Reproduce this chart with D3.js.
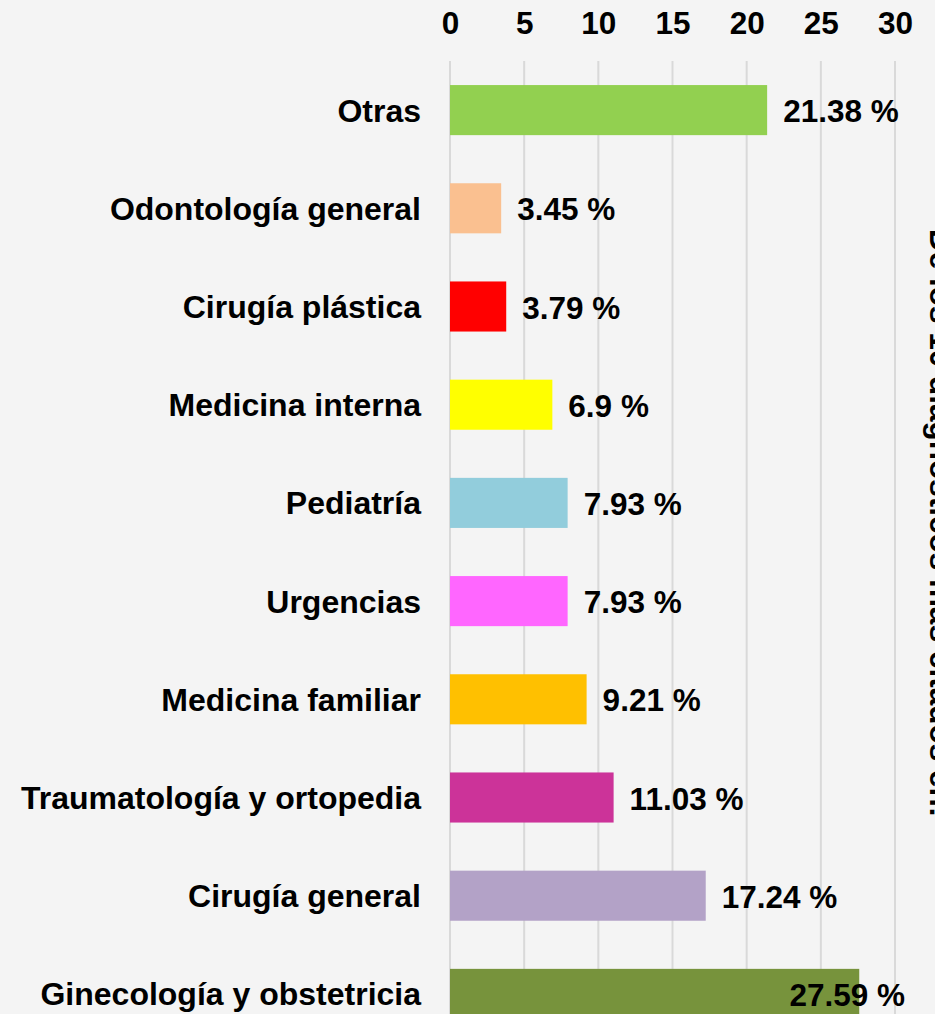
<!DOCTYPE html>
<html>
<head>
<meta charset="utf-8">
<script src="https://cdn.jsdelivr.net/npm/d3@7"></script>
<style>
  html, body { margin: 0; padding: 0; background: #f4f4f4; }
  svg { display: block; }
  text { font-family: "Liberation Sans", Arial, sans-serif; font-weight: bold; fill: #000; }
</style>
</head>
<body>
<script>
const categories = ["Otras", "Odontología general", "Cirugía plástica", "Medicina interna", "Pediatría",
  "Urgencias", "Medicina familiar", "Traumatología y ortopedia", "Cirugía general", "Ginecología y obstetricia"];
const values = [21.38, 3.45, 3.79, 6.9, 7.93, 7.93, 9.21, 11.03, 17.24, 27.59];
const colors = ["#92d050", "#fac090", "#ff0000", "#ffff00", "#92cddc",
  "#ff66ff", "#ffc000", "#cc3399", "#b3a2c7", "#77933c"];
const tickValues = [0, 5, 10, 15, 20, 25, 30];
const sideTitle = "De los 10 diagnósticos más citados en:";

const W = 935, H = 1014;
const svg = d3.select("body").append("svg").attr("width", W).attr("height", H);
svg.append("rect").attr("width", W).attr("height", H).attr("fill", "#f4f4f4");

const x = d3.scaleLinear().domain([0, 30]).range([450, 895]);
const y = d3.scaleBand().domain(categories).range([61, 1043]).paddingInner(0.49).paddingOuter(0.245);

const FS = 31.5;
const FS_CAT = 32;

// gridlines
svg.append("g").selectAll("line").data(tickValues).join("line")
  .attr("x1", d => x(d)).attr("x2", d => x(d))
  .attr("y1", 61).attr("y2", H)
  .attr("stroke", "#d9d9d9").attr("stroke-width", 2);

// top axis labels
const axis = d3.axisTop(x).tickValues(tickValues).tickSize(0).tickPadding(0);
const gAxis = svg.append("g").attr("transform", "translate(0,34)").call(axis);
gAxis.select(".domain").remove();
gAxis.selectAll("text").attr("font-size", FS).attr("font-family", "Liberation Sans, Arial, sans-serif")
  .attr("font-weight", "bold").attr("fill", "#000").attr("dy", 0);

// bars
svg.append("g").selectAll("rect").data(categories).join("rect")
  .attr("x", x(0)).attr("y", d => y(d))
  .attr("width", (d, i) => x(values[i]) - x(0))
  .attr("height", y.bandwidth())
  .attr("fill", (d, i) => colors[i]);

// category labels
svg.append("g").selectAll("text").data(categories).join("text")
  .attr("x", 421).attr("y", d => y(d) + y.bandwidth() / 2 + 11.5)
  .attr("text-anchor", "end").attr("font-size", FS_CAT)
  .text(d => d);

// value labels
svg.append("g").selectAll("text").data(categories).join("text")
  .attr("y", d => y(d) + y.bandwidth() / 2 + 12)
  .attr("font-size", FS)
  .text((d, i) => values[i] + " %")
  .each(function(d, i) {
    const w = this.getComputedTextLength();
    let px = x(values[i]) + 16;
    if (px + w > 905) px = 905 - w;
    d3.select(this).attr("x", px);
  });

// rotated side title (cut off at right edge, as in the reference)
svg.append("text")
  .attr("transform", "translate(930,229) rotate(90)")
  .attr("font-size", FS)
  .text(sideTitle);
</script>
</body>
</html>
